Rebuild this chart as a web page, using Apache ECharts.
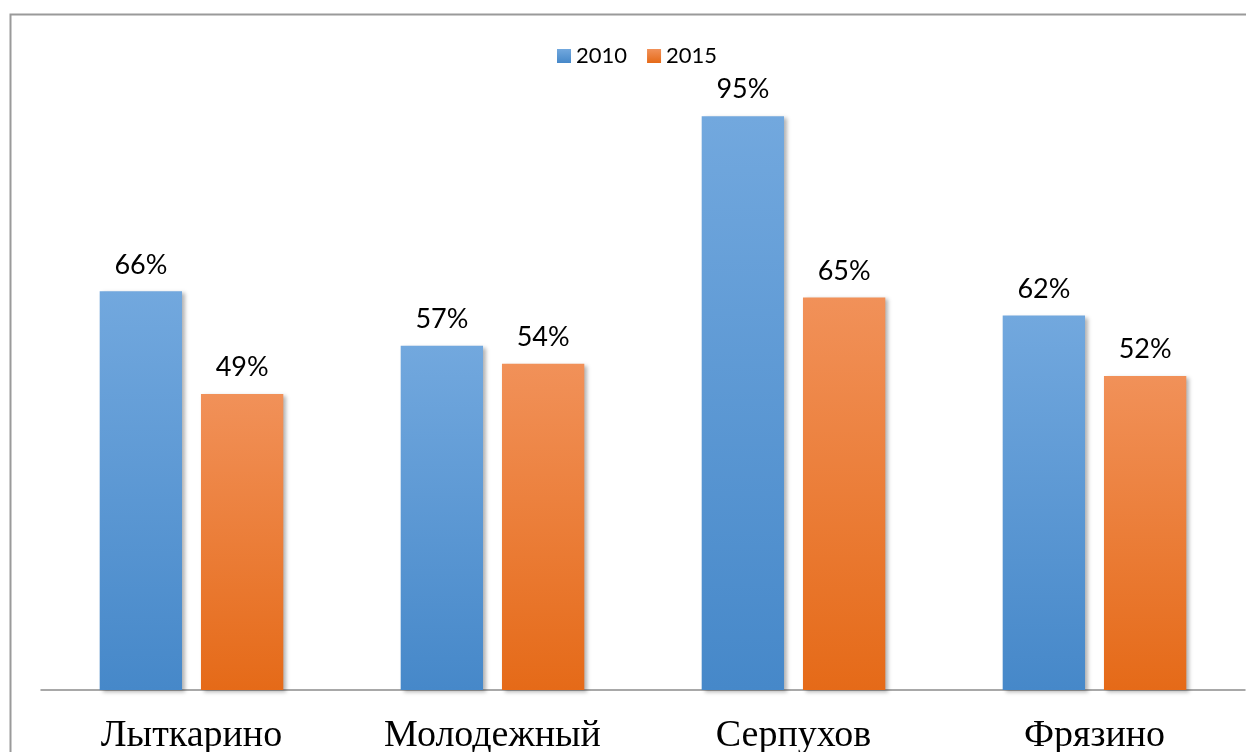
<!DOCTYPE html>
<html>
<head>
<meta charset="utf-8">
<script src="https://cdn.jsdelivr.net/npm/echarts@6/dist/echarts.min.js"></script>
<style>
  html, body { margin: 0; padding: 0; background: #fff; }
  #chart { width: 1246px; height: 752px; }
</style>
</head>
<body>
<div id="chart"></div>
<script>
const categories = ['Лыткарино', 'Молодежный', 'Серпухов', 'Фрязино'];
const values2010 = [66, 57, 95, 62];
const values2015 = [49, 54, 65, 52];

const chart = echarts.init(document.getElementById('chart'));

const grad = (top, bottom) => new echarts.graphic.LinearGradient(0, 0, 0, 1, [
  { offset: 0, color: top },
  { offset: 1, color: bottom }
]);

const barStyle = (top, bottom) => ({
  color: grad(top, bottom),
  shadowColor: 'rgba(0,0,0,0.3)',
  shadowBlur: 4,
  shadowOffsetX: 3,
  shadowOffsetY: 2
});

const label = {
  show: true,
  position: 'top',
  distance: 13,
  formatter: '{c}%',
  fontFamily: 'Lato, "Open Sans", sans-serif',
  fontSize: 27,
  color: '#000'
};

chart.setOption({
  animation: false,
  backgroundColor: '#fff',
  graphic: [{
    type: 'rect',
    left: 8,
    top: 12,
    shape: { width: 1260, height: 760 },
    style: { fill: 'none', stroke: '#9a9a9a', lineWidth: 2 },
    z: -1
  }],
  legend: {
    top: 40,
    left: 552,
    icon: 'rect',
    itemWidth: 14,
    itemHeight: 14,
    itemGap: 20,
    textStyle: { fontFamily: 'Lato, "Open Sans", sans-serif', fontSize: 22, color: '#000' },
    data: ['2010', '2015']
  },
  grid: { left: 41, right: 1, top: 86, bottom: 62, containLabel: false, outerBoundsMode: 'none' },
  xAxis: {
    type: 'category',
    data: categories,
    axisLine: { lineStyle: { color: '#8c8c8c', width: 1.5 } },
    axisTick: { show: false },
    axisLabel: {
      margin: 27,
      fontFamily: '"Liberation Serif", "DejaVu Serif", serif',
      fontSize: 38,
      color: '#000'
    }
  },
  yAxis: {
    type: 'value',
    min: 0,
    max: 100,
    show: false,
    splitLine: { show: false }
  },
  series: [
    {
      name: '2010',
      type: 'bar',
      data: values2010,
      barGap: '23%',
      barCategoryGap: '39%',
      itemStyle: barStyle('#72a8de', '#4688c9'),
      label: label
    },
    {
      name: '2015',
      type: 'bar',
      data: values2015,
      itemStyle: barStyle('#f19159', '#e56a18'),
      label: label
    }
  ]
});
</script>
</body>
</html>
